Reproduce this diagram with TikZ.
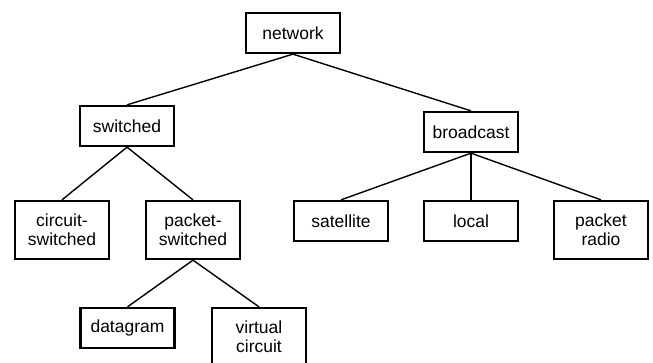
\documentclass[tikz,border=0pt]{standalone}
\usepackage{fontspec}
\setmainfont{Liberation Sans}
\begin{document}
\begin{tikzpicture}[x=1pt,y=-1pt,
  box/.style={draw=black,line width=2.3pt,minimum width=94pt,inner sep=0pt,align=center,
    font=\fontsize{17.5}{19}\selectfont},
  low/.style={box,minimum height=40pt},
  tall/.style={box,minimum height=58pt},
  edge/.style={line width=1.4pt}]
\useasboundingbox (0,0) rectangle (653,363);
\clip (0,0) rectangle (653,363);
\node[low]  (network)   at (293,33)  {network};
\node[low]  (switched)  at (127,126) {switched};
\node[low]  (broadcast) at (471,132) {broadcast};
\node[tall] (circuit)   at (62,230)  {circuit-\\switched};
\node[tall] (packet)    at (193,230) {packet-\\switched};
\node[low]  (satellite) at (341,221) {satellite};
\node[low]  (local)     at (471,221) {local};
\node[tall] (radio)     at (601,230) {packet\\radio};
\node[low]  (datagram)  at (127.5,328) {datagram};
\node[tall] (virtual)   at (259,337) {virtual\\circuit};
\draw[edge] (network.south) -- (switched.north);
\draw[edge] (network.south) -- (broadcast.north);
\draw[edge] (switched.south) -- (circuit.north);
\draw[edge] (switched.south) -- (packet.north);
\draw[edge] (broadcast.south) -- (satellite.north);
\draw[edge] (broadcast.south) -- (local.north);
\draw[edge] (broadcast.south) -- (radio.north);
\draw[edge] (packet.south) -- (datagram.north);
\draw[edge] (packet.south) -- (virtual.north);
\end{tikzpicture}
\end{document}
